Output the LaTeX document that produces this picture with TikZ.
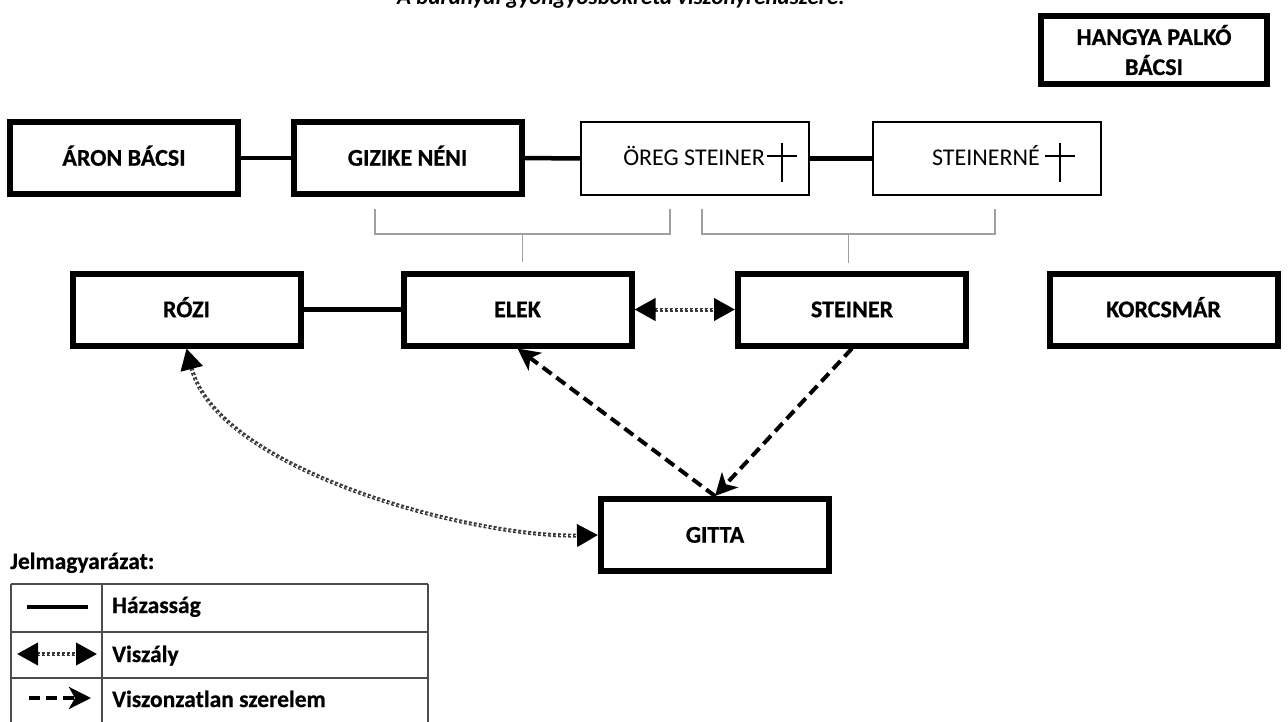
\documentclass[tikz,border=0pt]{standalone}
\usepackage{fontspec}
\setmainfont{Carlito}[BoldFeatures={FakeBold=0.6}]
\usetikzlibrary{arrows.meta}
\begin{document}
\begin{tikzpicture}[x=1pt,y=-1pt,
  basebox/.style={draw, line width=6pt, minimum width=228pt, minimum height=72pt, inner sep=0pt, outer sep=3pt, font=\bfseries\fontsize{24}{30}\selectfont},
  thickbox/.style={basebox, text height=15.4pt, text depth=0pt},
  thinbox/.style={draw, line width=2pt, minimum width=228pt, minimum height=73pt, inner sep=0pt, outer sep=1pt},
  lbl/.style={inner sep=0pt, font=\fontsize{24}{28}\selectfont},
  blbl/.style={inner sep=0pt, font=\bfseries\fontsize{23.5}{28}\selectfont},
  marriage/.style={line width=4.5pt},
  unreq/.style={line width=4pt, dash pattern=on 11pt off 6pt, -{Stealth[length=22pt,width=22pt,inset=6pt]}},
  viszaly/.style={draw=gray!45!black, line width=4pt, dash pattern=on 3pt off 2pt,
     {Triangle[length=21pt,width=22pt,color=black]}-{Triangle[length=21pt,width=22pt,color=black]},
     postaction={draw=white, line width=0.8pt, -, shorten <=22pt, shorten >=22pt}},
  bracket/.style={draw=gray!75, line width=1.5pt},
  tbl/.style={draw=gray!60!black, line width=1.5pt},
  cross/.style={line width=2.4pt}]
\fill[white] (0,0) rectangle (1288,722);
\useasboundingbox (0,0) rectangle (1288,722);
\clip (0,0) rectangle (1288,722);

% title (cut at the top, as in the reference)
\node[inner sep=0pt, anchor=base, font=\bfseries\itshape\fontsize{23}{28}\selectfont] (title) at (621,5) {A baranyai gyöngyösbokréta viszonyrendszere:};

% top row
\node[thickbox] (aron) at (124,158) {ÁRON BÁCSI};
\node[thickbox] (gizike) at (407.5,158) {GIZIKE NÉNI};
\node[thinbox] (oreg) at (695,158.5) {};
\node[thinbox] (steinerne) at (986.5,158.5) {};
\node[lbl, anchor=base east] (oregtxt) at (765,166) {ÖREG STEINER};
\node[lbl, anchor=base east] (steinernetxt) at (1040,166) {STEINERNÉ};
\draw[cross] (782,143) -- (782,182) (767,156) -- (797,156);
\draw[cross] (1060,143) -- (1060,182) (1045,156) -- (1075,156);

\node[basebox, minimum width=226pt, minimum height=68pt, align=center] (hangya) at (1154,50) {HANGYA PALKÓ\\BÁCSI};

% second row
\node[thickbox] (rozi) at (186.5,309.5) {RÓZI};
\node[thickbox] (elek) at (517.5,309.5) {ELEK};
\node[thickbox] (steiner) at (852,309.5) {STEINER};
\node[thickbox] (korcsmar) at (1163.5,309.5) {KORCSMÁR};
\node[thickbox] (gitta) at (715,535) {GITTA};

% marriages
\draw[marriage] (aron) -- (gizike);
\draw[marriage] (gizike) -- (oreg);
\draw[marriage] (oreg) -- (steinerne);
\draw[marriage] (rozi) -- (elek);

% parent brackets
\draw[bracket] (375,209) -- (375,234) -- (670,234) -- (670,209);
\draw[bracket] (522.5,234) -- (522.5,262);
\draw[bracket] (702,209) -- (702,234) -- (995,234) -- (995,209);
\draw[bracket] (848.5,234) -- (848.5,263);

% relations
\draw[viszaly] (elek) -- (steiner);
\draw[unreq] (gitta.north) -- (elek.south);
\draw[unreq] (steiner.south) -- (gitta.north);
\draw[viszaly] (rozi.south) .. controls (218,471) and (474,538) .. (gitta.west);

% legend
\node[blbl, anchor=base west] (legtitle) at (10,569) {Jelmagyarázat:};
\draw[tbl] (11,584) -- (428,584);
\draw[tbl] (11,632) -- (428,632);
\draw[tbl] (11,678) -- (428,678);
\draw[tbl] (11,584) -- (11,730);
\draw[tbl] (102,584) -- (102,730);
\draw[tbl] (428,584) -- (428,730);
\coordinate (l1a) at (27,607); \coordinate (l1b) at (88,607);
\coordinate (l2a) at (17,654); \coordinate (l2b) at (97,654);
\coordinate (l3a) at (29,698); \coordinate (l3b) at (91,698);
\draw[marriage] (l1a) -- (l1b);
\draw[viszaly] (l2a) -- (l2b);
\draw[unreq] (l3a) -- (l3b);
\node[blbl, anchor=base west] (leg1) at (112,613) {Házasság};
\node[blbl, anchor=base west] (leg2) at (112,662) {Viszály};
\node[blbl, anchor=base west] (leg3) at (112,707) {Viszonzatlan szerelem};
\end{tikzpicture}
\end{document}
